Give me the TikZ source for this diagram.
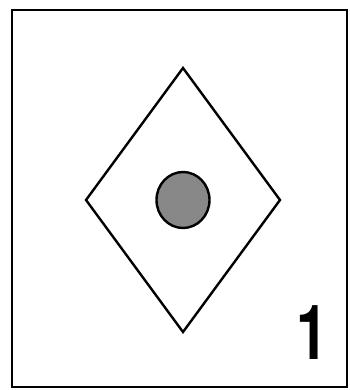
\documentclass[tikz,border=0pt]{standalone}
\usepackage{fontspec}
\setmainfont{TeX Gyre Heros}
\usepackage{tikz}
\usetikzlibrary{shapes.geometric}

\definecolor{pointgris}{RGB}{136,136,136}

\begin{document}
\begin{tikzpicture}[
    x=1pt, y=-1pt,
    frame/.style = {draw, line width=2.8pt},
    rhomb/.style = {draw, diamond, line width=2.4pt, inner sep=0pt, outer sep=0pt,
                    minimum width=194pt, minimum height=264pt},
    dot/.style   = {draw, ellipse, line width=2.4pt, fill=pointgris,
                    inner sep=0pt, minimum width=53pt, minimum height=56pt},
    num/.style   = {font=\fontsize{76}{76}\selectfont\bfseries, inner sep=0pt},
]

    \useasboundingbox (0,0) rectangle (349,390);

    % ── Cadre ──
    \draw[frame] (12,10) rectangle (347,387);

    % ── Losange et point ──
    \node[rhomb] (losange) at (183,200) {};
    \node[dot] (point) at (183,200) {};

    % ── Numéro ──
    \node[num] (numero) at (312,333) {\scalebox{0.75}[1]{1}};

\end{tikzpicture}
\end{document}
